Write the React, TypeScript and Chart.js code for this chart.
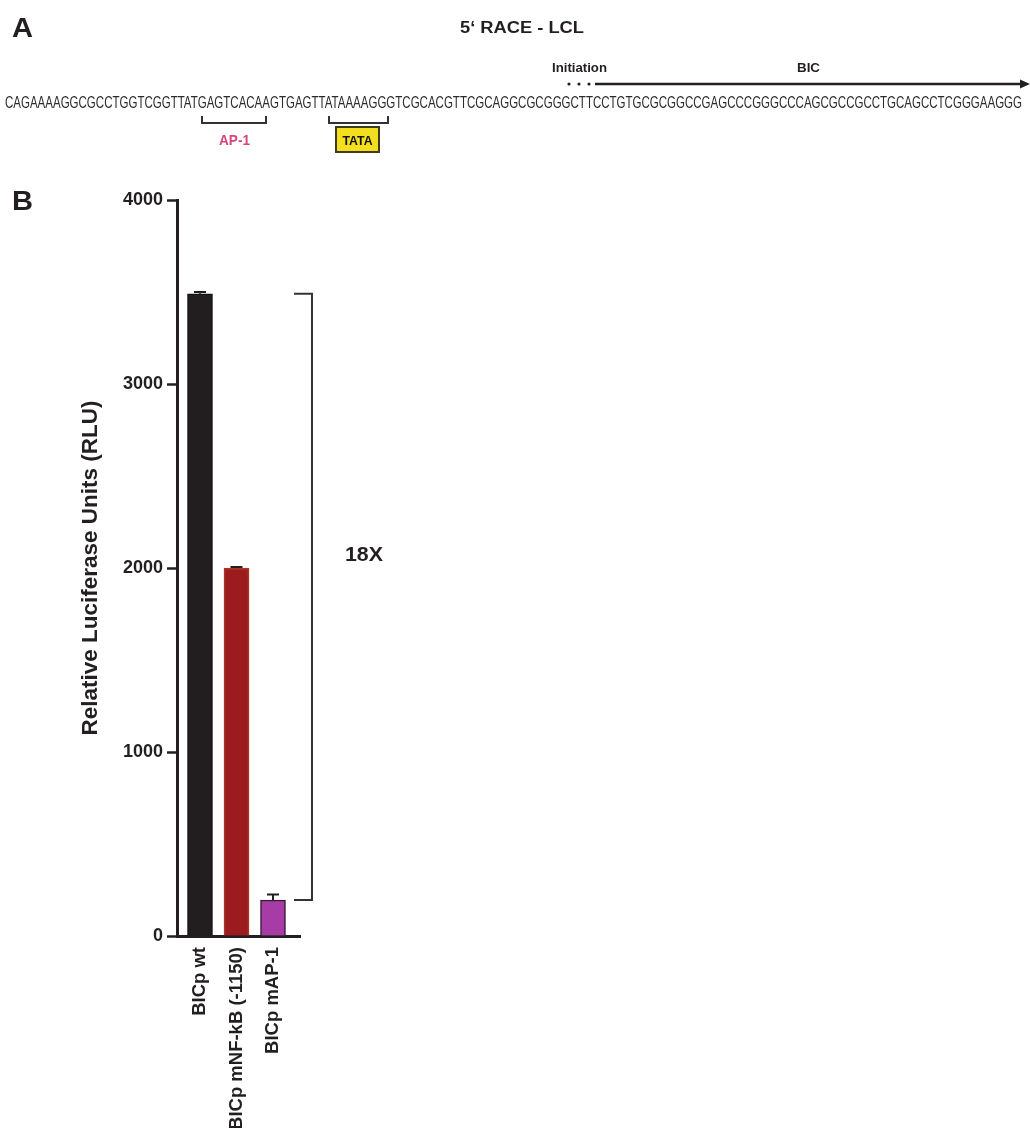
import React, { useEffect, useRef } from "react";
import { Chart, registerables } from "chart.js";

Chart.register(...registerables);

// ---- Data ----
const categories = ["BICp wt", "BICp mNF-kB (-1150)", "BICp mAP-1"];
const meanRLU = [3490, 2000, 195];
const errRLU = [10, 6, 30];
const barColors = ["#221e1f", "#9b1b1f", "#a83ca6"];
const barBorders = ["#141213", "#a8361f", "#3a1a38"];
const yTickValues = [0, 1000, 2000, 3000, 4000];
const foldLabel = "18X";

const sequence =
  "CAGAAAAGGCGCCTGGTCGGTTATGAGTCACAAGTGAGTTATAAAAGGGTCGCACGTTCGCAGGCGCGGGCTTCCTGTGCGCGGCCGAGCCCGGGCCCAGCGCCGCCTGCAGCCTCGGGAAGGG";
const panelATitle = "5\u2018 RACE - LCL";
const siteLabels = ["AP-1", "TATA"];
const arrowLabels = ["Initiation", "BIC"];

const FONT = "'Liberation Sans', Arial, Helvetica, sans-serif";
const INK = "#231f20";

function drawText(
  ctx: CanvasRenderingContext2D,
  text: string,
  x: number,
  y: number,
  font: string,
  width: number | null,
  align: "left" | "center",
  color: string
) {
  ctx.save();
  ctx.font = font;
  ctx.fillStyle = color;
  const w = ctx.measureText(text).width;
  const tw = width ?? w;
  const s = tw / w;
  const left = align === "center" ? x - tw / 2 : x;
  ctx.translate(left, y);
  ctx.scale(s, 1);
  ctx.textAlign = "left";
  ctx.textBaseline = "alphabetic";
  ctx.fillText(text, 0, 0);
  ctx.restore();
}

const panelAPlugin = {
  id: "panelA",
  afterDraw(chart: any) {
    const ctx: CanvasRenderingContext2D = chart.ctx;
    // Panel letters
    drawText(ctx, "A", 12, 37, `bold 28px ${FONT}`, 21, "left", INK);
    drawText(ctx, "B", 12, 210, `bold 28px ${FONT}`, 21, "left", INK);
    // Title
    drawText(ctx, panelATitle, 522, 33, `bold 16px ${FONT}`, 124, "center", INK);
    // Initiation / BIC
    drawText(ctx, arrowLabels[0], 552, 72, `bold 13px ${FONT}`, 55, "left", INK);
    drawText(ctx, arrowLabels[1], 797, 72, `bold 13px ${FONT}`, 23, "left", INK);
    // dots
    ctx.save();
    ctx.fillStyle = INK;
    [569, 579, 589].forEach((dx) => {
      ctx.beginPath();
      ctx.arc(dx, 84, 1.6, 0, Math.PI * 2);
      ctx.fill();
    });
    // arrow
    ctx.strokeStyle = INK;
    ctx.lineWidth = 2.5;
    ctx.beginPath();
    ctx.moveTo(595, 84);
    ctx.lineTo(1022, 84);
    ctx.stroke();
    ctx.beginPath();
    ctx.moveTo(1030, 84);
    ctx.lineTo(1020, 79.5);
    ctx.lineTo(1020, 88.5);
    ctx.closePath();
    ctx.fill();
    ctx.restore();
    // sequence
    drawText(ctx, sequence, 5, 108, `16.5px ${FONT}`, 1017, "left", "#2b2b2b");
    // brackets
    ctx.save();
    ctx.strokeStyle = "#333";
    ctx.lineWidth = 2;
    [
      [202, 266],
      [329, 388],
    ].forEach(([a, b]) => {
      ctx.beginPath();
      ctx.moveTo(a, 116);
      ctx.lineTo(a, 123);
      ctx.lineTo(b, 123);
      ctx.lineTo(b, 116);
      ctx.stroke();
    });
    // TATA box
    ctx.fillStyle = "#f4df1e";
    ctx.fillRect(336, 127, 43, 25);
    ctx.strokeStyle = "#3d3a1e";
    ctx.lineWidth = 2;
    ctx.strokeRect(336, 127, 43, 25);
    ctx.restore();
    drawText(ctx, siteLabels[0], 234.5, 145, `bold 14px ${FONT}`, 31, "center", "#d6457b");
    drawText(ctx, siteLabels[1], 357.5, 144.5, `bold 13px ${FONT}`, 30, "center", "#111");
  },
};

const errorBarPlugin = {
  id: "errorBars",
  afterDatasetsDraw(chart: any) {
    const ctx: CanvasRenderingContext2D = chart.ctx;
    const y = chart.scales.y;
    const meta = chart.getDatasetMeta(0);
    ctx.save();
    ctx.strokeStyle = INK;
    ctx.lineWidth = 2;
    meta.data.forEach((el: any, i: number) => {
      const top = y.getPixelForValue(meanRLU[i] + errRLU[i]);
      ctx.beginPath();
      ctx.moveTo(el.x, el.y);
      ctx.lineTo(el.x, top);
      ctx.moveTo(el.x - 6, top);
      ctx.lineTo(el.x + 6, top);
      ctx.stroke();
    });
    ctx.restore();
  },
};

const bracketPlugin = {
  id: "foldBracket",
  afterDraw(chart: any) {
    const ctx: CanvasRenderingContext2D = chart.ctx;
    const y = chart.scales.y;
    const x = chart.scales.x;
    const yTop = y.getPixelForValue(meanRLU[0]);
    const yBot = y.getPixelForValue(meanRLU[2]);
    const xl = x.getPixelForValue(2) + 21;
    const xr = x.getPixelForValue(2) + 39;
    ctx.save();
    ctx.strokeStyle = "#333";
    ctx.lineWidth = 2;
    ctx.beginPath();
    ctx.moveTo(xl, yTop);
    ctx.lineTo(xr, yTop);
    ctx.lineTo(xr, yBot);
    ctx.lineTo(xl, yBot);
    ctx.stroke();
    ctx.restore();
    drawText(ctx, foldLabel, xr + 52, y.getPixelForValue(2040), `bold 21px ${FONT}`, 38, "center", INK);
  },
};

export default function App() {
  const ref = useRef<HTMLCanvasElement | null>(null);
  useEffect(() => {
    if (!ref.current) return;
    const chart = new Chart(ref.current, {
      type: "bar",
      data: {
        datasets: [
          {
            data: meanRLU.map((v, i) => ({ x: i, y: v })),
            backgroundColor: barColors,
            borderColor: barBorders,
            borderWidth: 1.5,
            barThickness: 25,
          },
        ],
      },
      options: {
        animation: false,
        responsive: false,
        devicePixelRatio: 1,
        layout: { padding: { left: 0, top: 200, right: 730, bottom: 0 } },
        plugins: { legend: { display: false }, tooltip: { enabled: false } },
        scales: {
          x: {
            type: "linear",
            offset: false,
            min: -0.63,
            max: 2.74,
            afterBuildTicks: (scale: any) => {
              scale.ticks = categories.map((_, i) => ({ value: i }));
            },
            afterFit: (scale: any) => {
              scale.height = 192;
            },
            grid: { display: false, drawTicks: false, offset: false },
            border: { display: true, color: INK, width: 3 },
            ticks: {
              autoSkip: false,
              minRotation: 90,
              maxRotation: 90,
              padding: 11,
              color: INK,
              font: { family: FONT, size: 18.5, weight: "bold" },
              callback: (v: any) => categories[Math.round(Number(v))] ?? "",
            },
          },
          y: {
            min: 0,
            max: 4000,
            afterBuildTicks: (scale: any) => {
              scale.ticks = yTickValues.map((v) => ({ value: v }));
            },
            afterFit: (scale: any) => {
              scale.width = 177;
            },
            grid: {
              drawOnChartArea: false,
              drawTicks: true,
              tickLength: 10,
              tickWidth: 2.5,
              tickColor: INK,
            },
            border: { display: true, color: INK, width: 3 },
            ticks: {
              padding: 4,
              color: INK,
              font: { family: FONT, size: 18, weight: "bold" },
              callback: (v: any) => String(v),
            },
            title: {
              display: true,
              text: "Relative Luciferase Units (RLU)",
              color: INK,
              font: { family: FONT, size: 22.5, weight: "bold" },
              padding: { top: 77, bottom: 0 },
            },
          },
        },
      },
      plugins: [errorBarPlugin, bracketPlugin, panelAPlugin],
    } as any);
    return () => chart.destroy();
  }, []);

  return (
    <div
      style={{
        position: "fixed",
        left: 0,
        top: 0,
        width: 1030,
        height: 1128,
        background: "#ffffff",
        overflow: "hidden",
      }}
    >
      <canvas ref={ref} width={1030} height={1128} style={{ display: "block" }} />
    </div>
  );
}
